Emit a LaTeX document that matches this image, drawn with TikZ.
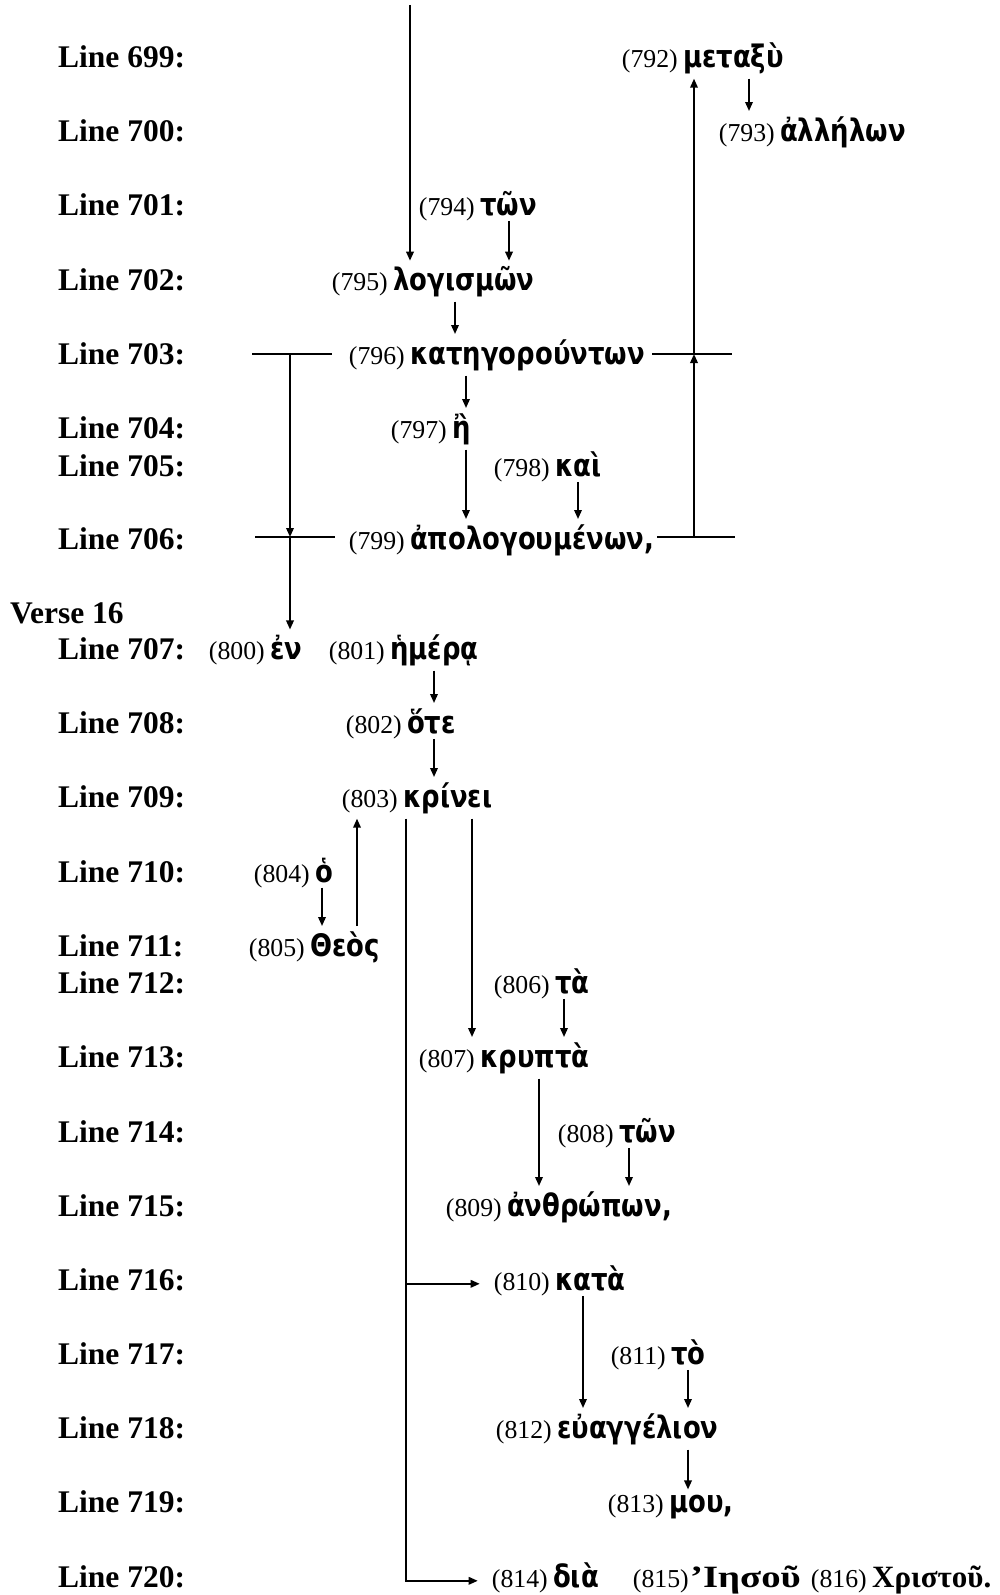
\documentclass[tikz,border=0pt]{standalone}
\usepackage{fontspec}
\setmainfont{Liberation Serif}
\newfontfamily\grkfont[FakeStretch=0.835]{DejaVu Sans}
\newfontfamily\tgrkwide[FakeStretch=1.25]{Liberation Serif}
\usetikzlibrary{arrows.meta}

\newlength{\du}
\setlength{\du}{1pt}

\tikzset{
  linelab/.style={anchor=base west,inner sep=0pt,font=\fontsize{31.5}{36}\selectfont\bfseries},
  num/.style={anchor=base east,inner sep=0pt,font=\fontsize{25.8}{30}\selectfont},
  word/.style={anchor=base west,inner xsep=0pt,inner ysep=5pt,font=\grkfont\fontsize{31}{36}\selectfont\bfseries},
  tword/.style={anchor=base west,inner xsep=0pt,inner ysep=5pt,font=\fontsize{31}{36}\selectfont\bfseries},
  rule/.style={line width=1.8pt},
  arr/.style={line width=1.8pt,-{Triangle[length=9pt,width=7.5pt]}},
}

\begin{document}
\begin{tikzpicture}
\pgftransformxscale{1.000000}
\pgftransformyscale{-1.000000}
\definecolor{dialinecolor}{rgb}{0.000000, 0.000000, 0.000000}
\pgfsetstrokecolor{dialinecolor}
\pgfsetfillcolor{dialinecolor}
\useasboundingbox (0\du,0\du) rectangle (999\du,1595\du);
% line labels
\node[linelab] (l699) at (58\du,67\du){Line 699:};
\node[linelab] (l700) at (58\du,141\du){Line 700:};
\node[linelab] (l701) at (58\du,215\du){Line 701:};
\node[linelab] (l702) at (58\du,290\du){Line 702:};
\node[linelab] (l703) at (58\du,364\du){Line 703:};
\node[linelab] (l704) at (58\du,438\du){Line 704:};
\node[linelab] (l705) at (58\du,476\du){Line 705:};
\node[linelab] (l706) at (58\du,549\du){Line 706:};
\node[linelab] (v16) at (10\du,623\du){Verse 16};
\node[linelab] (l707) at (58\du,659\du){Line 707:};
\node[linelab] (l708) at (58\du,733\du){Line 708:};
\node[linelab] (l709) at (58\du,807\du){Line 709:};
\node[linelab] (l710) at (58\du,882\du){Line 710:};
\node[linelab] (l711) at (58\du,956\du){Line 711:};
\node[linelab] (l712) at (58\du,993\du){Line 712:};
\node[linelab] (l713) at (58\du,1067\du){Line 713:};
\node[linelab] (l714) at (58\du,1142\du){Line 714:};
\node[linelab] (l715) at (58\du,1216\du){Line 715:};
\node[linelab] (l716) at (58\du,1290\du){Line 716:};
\node[linelab] (l717) at (58\du,1364\du){Line 717:};
\node[linelab] (l718) at (58\du,1438\du){Line 718:};
\node[linelab] (l719) at (58\du,1512\du){Line 719:};
\node[linelab] (l720) at (58\du,1587\du){Line 720:};
% setfont left to latex
\node[word] (w792) at (683\du,67\du){μεταξὺ};
\node[num] (n792) at ([xshift=-5\du]w792.base west){(792)};
\node[word] (w793) at (780\du,141\du){ἀλλήλων};
\node[num] (n793) at ([xshift=-5\du]w793.base west){(793)};
\node[word] (w794) at (480\du,215\du){τῶν};
\node[num] (n794) at ([xshift=-5\du]w794.base west){(794)};
\node[word] (w795) at (393\du,290\du){λογισμῶν};
\node[num] (n795) at ([xshift=-5\du]w795.base west){(795)};
\node[word] (w796) at (410\du,364\du){κατηγορούντων};
\node[num] (n796) at ([xshift=-5\du]w796.base west){(796)};
\node[word] (w797) at (452\du,438\du){ἢ};
\node[num] (n797) at ([xshift=-5\du]w797.base west){(797)};
\node[word] (w798) at (555\du,476\du){καὶ};
\node[num] (n798) at ([xshift=-5\du]w798.base west){(798)};
\node[word] (w799) at (410\du,549\du){ἀπολογουμένων,};
\node[num] (n799) at ([xshift=-5\du]w799.base west){(799)};
% setfont left to latex
\node[word] (w800) at (270\du,659\du){ἐν};
\node[num] (n800) at ([xshift=-5\du]w800.base west){(800)};
\node[word] (w801) at (390\du,659\du){ἡμέρᾳ};
\node[num] (n801) at ([xshift=-5\du]w801.base west){(801)};
\node[word] (w802) at (407\du,733\du){ὅτε};
\node[num] (n802) at ([xshift=-5\du]w802.base west){(802)};
\node[word] (w803) at (403\du,807\du){κρίνει};
\node[num] (n803) at ([xshift=-5\du]w803.base west){(803)};
\node[word] (w804) at (315\du,882\du){ὁ};
\node[num] (n804) at ([xshift=-5\du]w804.base west){(804)};
\node[word] (w805) at (310\du,956\du){Θεὸς};
\node[num] (n805) at ([xshift=-5\du]w805.base west){(805)};
\node[word] (w806) at (555\du,993\du){τὰ};
\node[num] (n806) at ([xshift=-5\du]w806.base west){(806)};
\node[word] (w807) at (480\du,1067\du){κρυπτὰ};
\node[num] (n807) at ([xshift=-5\du]w807.base west){(807)};
\node[word] (w808) at (619\du,1142\du){τῶν};
\node[num] (n808) at ([xshift=-5\du]w808.base west){(808)};
\node[word] (w809) at (507\du,1216\du){ἀνθρώπων,};
\node[num] (n809) at ([xshift=-5\du]w809.base west){(809)};
\node[word] (w810) at (555\du,1290\du){κατὰ};
\node[num] (n810) at ([xshift=-5\du]w810.base west){(810)};
\node[word] (w811) at (671\du,1364\du){τὸ};
\node[num] (n811) at ([xshift=-5\du]w811.base west){(811)};
\node[word] (w812) at (557\du,1438\du){εὐαγγέλιον};
\node[num] (n812) at ([xshift=-5\du]w812.base west){(812)};
\node[word] (w813) at (669\du,1512\du){μου,};
\node[num] (n813) at ([xshift=-5\du]w813.base west){(813)};
\node[word] (w814) at (553\du,1587\du){διὰ};
\node[num] (n814) at ([xshift=-5\du]w814.base west){(814)};
\node[tword,font=\tgrkwide\fontsize{31}{36}\selectfont\bfseries] (w815) at (690\du,1587\du){’Ιησοῦ};
\node[num] (n815) at ([xshift=-1\du]w815.base west){(815)};
\node[tword] (w816) at (872\du,1587\du){Χριστοῦ.};
\node[num] (n816) at ([xshift=-5\du]w816.base west){(816)};
% brackets round 796 and 799
\coordinate (jl703) at (290\du,354\du);
\coordinate (jl706) at (290\du,537\du);
\coordinate (jr703) at (694\du,354\du);
\coordinate (jr706) at (694\du,537\du);
\draw[rule] (252\du,354\du)--(332\du,354\du);
\draw[rule] (652\du,354\du)--(732\du,354\du);
\draw[rule] (255\du,537\du)--(335\du,537\du);
\draw[rule] (657\du,537\du)--(735\du,537\du);
% arrows
\coordinate (top) at (410\du,5\du);
\draw[arr] (top)--(top |- w795.north);
\draw[arr] (w792.south -| 749\du,0)--(w793.north -| 749\du,0);
\draw[arr] (w794.south -| 509\du,0)--(w795.north -| 509\du,0);
\draw[arr] (w795.south -| 455\du,0)--(w796.north -| 455\du,0);
\draw[arr] (w796.south -| 466\du,0)--(w797.north -| 466\du,0);
\draw[arr] (w797.south -| 466\du,0)--(w799.north -| 466\du,0);
\draw[arr] (w798.south -| 578\du,0)--(w799.north -| 578\du,0);
\draw[arr] (jr706)--(jr703);
\draw[arr] (jr703)--(jr703 |- w792.south);
\draw[arr] (jl703)--(jl706);
\draw[arr] (jl706)--(jl706 |- w800.north);
\draw[arr] (w801.south -| 434\du,0)--(w802.north -| 434\du,0);
\draw[arr] (w802.south -| 434\du,0)--(w803.north -| 434\du,0);
\draw[arr] (w804.south -| 322\du,0)--(w805.north -| 322\du,0);
\draw[arr] (w805.north -| 357\du,0)--(w803.south -| 357\du,0);
\draw[arr] (w803.south -| 472\du,0)--(w807.north -| 472\du,0);
\coordinate (trunk) at (w803.south -| 406\du,0);
\draw[arr,shorten >=14pt] (trunk) |- (n814.west);
\draw[arr,shorten >=14pt] (trunk |- n810.west)--(n810.west);
\draw[arr] (w806.south -| 564\du,0)--(w807.north -| 564\du,0);
\draw[arr] (w807.south -| 539\du,0)--(w809.north -| 539\du,0);
\draw[arr] (w808.south -| 629\du,0)--(w809.north -| 629\du,0);
\draw[arr] (w810.south -| 583\du,0)--(w812.north -| 583\du,0);
\draw[arr] (w811.south -| 688\du,0)--(w812.north -| 688\du,0);
\draw[arr] (w812.south -| 688\du,0)--(w813.north -| 688\du,0);
\end{tikzpicture}
\end{document}
